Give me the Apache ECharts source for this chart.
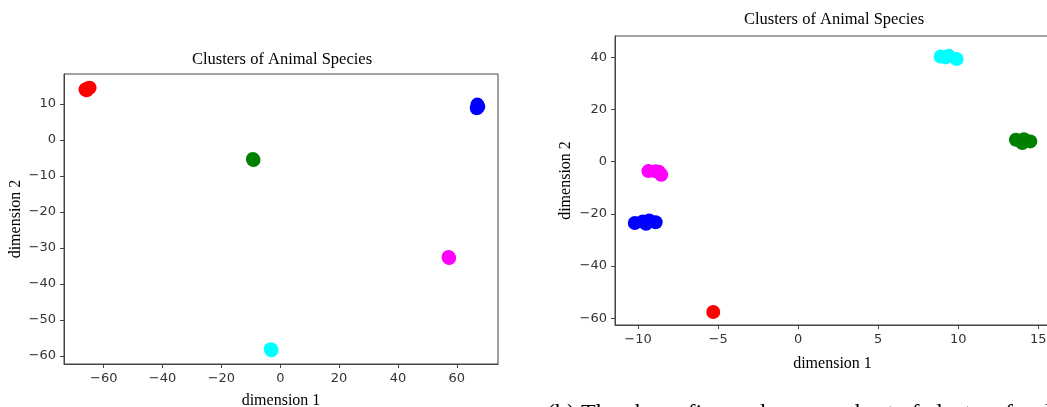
<!DOCTYPE html>
<html>
<head>
<meta charset="utf-8">
<script src="https://cdn.jsdelivr.net/npm/echarts@6/dist/echarts.min.js"></script>
<style>
  html, body { margin: 0; padding: 0; background: #fff; }
  #main { width: 1047px; height: 407px; }
</style>
</head>
<body>
<div id="main"></div>
<script>
// left plot: all clusters
var leftRed = [[-66.2, 14.0], [-65.5, 14.3], [-64.8, 14.5], [-65.8, 13.8]];
var leftBlue = [[67.0, 9.8], [66.8, 8.8], [67.3, 9.2]];
var leftGreen = [[-9.1, -5.6], [-9.3, -5.3]];
var leftMagenta = [[57.4, -32.8], [57.2, -32.5]];
var leftCyan = [[-3.2, -58.1], [-3.0, -58.4]];

// right plot: subset of clusters
var rightCyan = [[8.9, 40.3], [9.4, 40.6], [9.9, 39.4], [9.2, 40.0]];
var rightGreen = [[13.6, 8.4], [14.1, 8.6], [14.5, 7.8], [14.0, 7.2]];
var rightMagenta = [[-9.35, -3.6], [-8.9, -3.7], [-8.55, -5.0], [-8.7, -3.8]];
var rightBlue = [[-10.2, -23.5], [-9.7, -22.9], [-9.3, -22.5], [-8.9, -23.2], [-9.5, -23.8]];
var rightRed = [[-5.3, -57.6]];

// tick labels
var leftXTicks = [-60, -40, -20, 0, 20, 40, 60];
var leftYTicks = [-60, -50, -40, -30, -20, -10, 0, 10];
var rightXTicks = [-10, -5, 0, 5, 10, 15];
var rightYTicks = [-60, -40, -20, 0, 20, 40];

var titleText = 'Clusters of Animal Species';
var captionText = '(b) The above figure shows a subset of clusters for d';

var serif = '"Liberation Serif", "DejaVu Serif", serif';
var sans = '"DejaVu Sans", sans-serif';
var frameColor = '#444';

var myChart = echarts.init(document.getElementById('main'));

function minusSign(v) {
    return String(v).replace('-', '\u2212');
}

function makeAxis(gridIndex, min, max, ticks, name, nameGap) {
    return {
        type: 'value',
        gridIndex: gridIndex,
        min: min,
        max: max,
        name: name,
        nameLocation: 'middle',
        nameGap: nameGap,
        nameTextStyle: { fontFamily: serif, fontSize: 16, color: '#000' },
        axisLine: { show: true, onZero: false, lineStyle: { color: frameColor, width: 1 } },
        axisTick: { show: true, length: 4, lineStyle: { color: frameColor }, customValues: ticks },
        axisLabel: {
            fontFamily: sans, fontSize: 13, color: '#333', margin: 8,
            customValues: ticks, formatter: minusSign
        },
        splitLine: { show: false }
    };
}

function dots(data, color, xi) {
    return {
        type: 'scatter',
        xAxisIndex: xi,
        yAxisIndex: xi,
        data: data,
        symbolSize: 14,
        itemStyle: { color: color, opacity: 1 },
        silent: true
    };
}

myChart.setOption({
    backgroundColor: '#fff',
    animation: false,
    grid: [
        { left: 64, top: 74, width: 434, height: 290, outerBoundsMode: 'none', containLabel: false,
          show: true, borderColor: frameColor, borderWidth: 1 },
        { left: 615, top: 36, width: 435, height: 289, outerBoundsMode: 'none', containLabel: false,
          show: true, borderColor: frameColor, borderWidth: 1 }
    ],
    xAxis: [
        makeAxis(0, -73.5, 74, leftXTicks, 'dimension 1', 29),
        makeAxis(1, -11.437, 15.73, rightXTicks, 'dimension 1', 31)
    ],
    yAxis: [
        makeAxis(0, -62.2, 18.3, leftYTicks, 'dimension 2', 40),
        makeAxis(1, -62.6, 48.2, rightYTicks, 'dimension 2', 41)
    ],
    graphic: [
        { type: 'text', x: 282, y: 51, style: { text: titleText, font: '16.5px ' + serif, fill: '#000', textAlign: 'center' } },
        { type: 'text', x: 834, y: 11, style: { text: titleText, font: '16.5px ' + serif, fill: '#000', textAlign: 'center' } },
        { type: 'text', x: 547, y: 402, style: { text: captionText, font: '24px ' + serif, fill: '#000', textAlign: 'left' } }
    ],
    series: [
        dots(leftRed, '#ff0000', 0),
        dots(leftBlue, '#0000ff', 0),
        dots(leftGreen, '#008000', 0),
        dots(leftMagenta, '#ff00ff', 0),
        dots(leftCyan, '#00ffff', 0),
        dots(rightCyan, '#00ffff', 1),
        dots(rightGreen, '#008000', 1),
        dots(rightMagenta, '#ff00ff', 1),
        dots(rightBlue, '#0000ff', 1),
        dots(rightRed, '#ff0000', 1)
    ]
});
</script>
</body>
</html>
